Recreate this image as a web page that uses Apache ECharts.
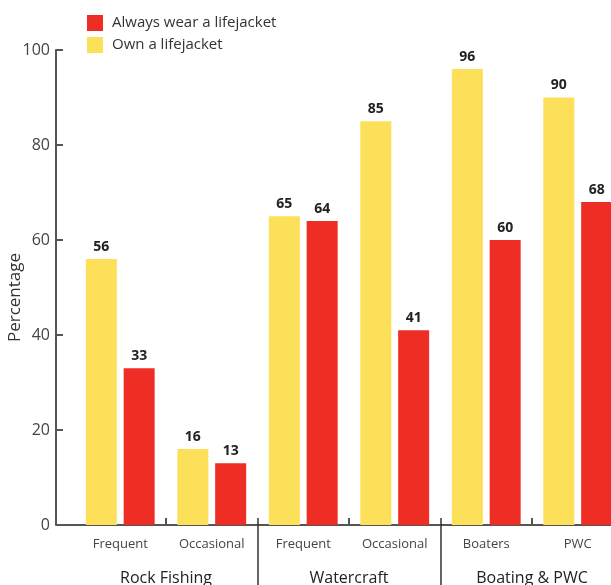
<!DOCTYPE html>
<html>
<head>
<meta charset="utf-8">
<script src="https://cdn.jsdelivr.net/npm/echarts@6/dist/echarts.min.js"></script>
<style>
  html, body { margin: 0; padding: 0; background: #fff; }
  #chart { width: 611px; height: 585px; }
</style>
</head>
<body>
<div id="chart"></div>
<script>
// Lifejacket ownership vs. wearing, by activity group
const subCategories = ['Frequent', 'Occasional', 'Frequent', 'Occasional', 'Boaters', 'PWC'];
const groups = ['Rock Fishing', 'Watercraft', 'Boating & PWC'];
const ownValues = [56, 16, 65, 85, 96, 90];
const wearValues = [33, 13, 64, 41, 60, 68];
const yTicks = { min: 0, max: 100, interval: 20 };

const FONT = '"Open Sans", sans-serif';
const AXIS_COLOR = '#555';
const YELLOW = '#FDE05A';
const RED = '#EE2E24';

const chart = echarts.init(document.getElementById('chart'), null, { renderer: 'canvas' });

const valueLabel = {
  show: true,
  position: 'top',
  distance: 5,
  fontFamily: FONT,
  fontSize: 14,
  fontWeight: 'bold',
  color: '#222'
};

const gridLeft = 74.5;

chart.setOption({
  animation: false,
  textStyle: { fontFamily: FONT },
  legend: {
    orient: 'vertical',
    left: 87,
    top: 15,
    padding: 0,
    itemWidth: 16,
    itemHeight: 16,
    itemGap: 6,
    icon: 'rect',
    data: ['Always wear a lifejacket', 'Own a lifejacket'],
    textStyle: { fontFamily: FONT, fontSize: 15, color: '#333', padding: [0, 0, 0, 4] }
  },
  grid: { left: gridLeft, right: -12.5, top: 50, bottom: 60, outerBoundsMode: 'none', containLabel: false },
  xAxis: [
    {
      type: 'category',
      data: subCategories,
      position: 'bottom',
      axisLine: { show: true, lineStyle: { color: AXIS_COLOR, width: 2 } },
      axisTick: {
        show: true,
        inside: true,
        length: 7,
        interval: (i) => i % 2 === 1,
        lineStyle: { color: AXIS_COLOR, width: 2 }
      },
      axisLabel: { fontFamily: FONT, fontSize: 13, color: '#444', margin: 13, interval: 0 }
    },
    {
      type: 'category',
      data: groups,
      position: 'bottom',
      offset: -7,
      axisLine: { show: false },
      axisTick: {
        show: true,
        length: 70,
        interval: (i) => i > 0,
        lineStyle: { color: '#333', width: 1.5 }
      },
      axisLabel: { fontFamily: FONT, fontSize: 16, color: '#222', margin: 52, interval: 0 }
    }
  ],
  yAxis: {
    type: 'value',
    min: yTicks.min,
    max: yTicks.max,
    interval: yTicks.interval,
    offset: 18.5,
    name: 'Percentage',
    nameLocation: 'middle',
    nameGap: 32,
    nameMoveOverlap: false,
    nameTextStyle: { fontFamily: FONT, fontSize: 17, color: '#333', padding: [0, 20, 0, 0] },
    axisLine: { show: true, lineStyle: { color: AXIS_COLOR, width: 2 } },
    axisTick: { show: true, inside: true, length: 7, lineStyle: { color: AXIS_COLOR, width: 2 } },
    axisLabel: { fontFamily: FONT, fontSize: 16, color: '#444', margin: 6 },
    splitLine: { show: false }
  },
  series: [
    {
      name: 'Own a lifejacket',
      type: 'bar',
      xAxisIndex: 0,
      data: ownValues,
      barWidth: 31,
      barGap: '22%',
      itemStyle: { color: YELLOW },
      label: valueLabel
    },
    {
      name: 'Always wear a lifejacket',
      type: 'bar',
      xAxisIndex: 0,
      data: wearValues,
      barWidth: 31,
      barGap: '22%',
      itemStyle: { color: RED },
      label: valueLabel
    }
  ]
});

// Extend the baseline left to meet the offset value axis
const origin = chart.convertToPixel({ xAxisIndex: 0, yAxisIndex: 0 }, [0, 0]);
chart.setOption({
  graphic: [{
    type: 'line',
    shape: { x1: gridLeft - 18.5, y1: origin[1], x2: gridLeft, y2: origin[1] },
    style: { stroke: AXIS_COLOR, lineWidth: 2 },
    silent: true
  }]
});
</script>
</body>
</html>
